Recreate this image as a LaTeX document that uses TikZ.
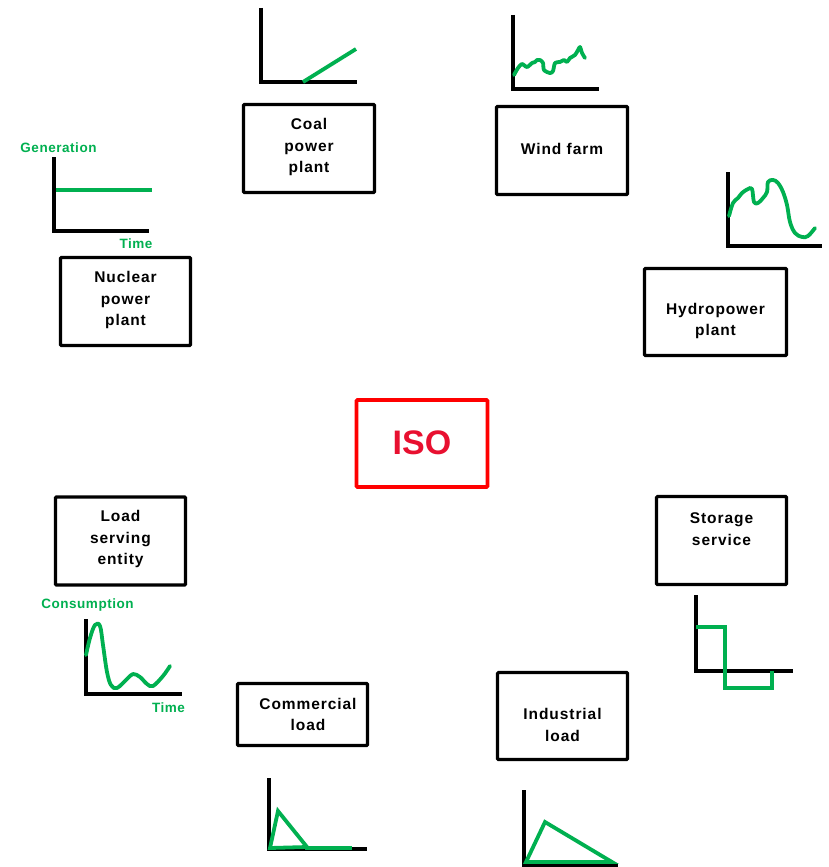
\documentclass[tikz,border=0pt]{standalone}
\usepackage{fontspec}
\setmainfont{Liberation Sans}
\newfontfamily\boxfont[LetterSpace=6]{Liberation Sans}
\newfontfamily\lblfont[LetterSpace=4]{Liberation Sans}
\definecolor{grn}{RGB}{0,176,80}
\definecolor{isored}{RGB}{255,0,0}
\definecolor{isotext}{RGB}{232,16,48}
\begin{document}
\begin{tikzpicture}[x=1pt,y=-1pt,
  box/.style={draw=black, line width=3.2pt, rounded corners=1pt, inner sep=0pt},
  boxtext/.style={align=center, font=\boxfont\fontsize{15.5}{21.5}\selectfont\bfseries, inner sep=0pt},
  axis/.style={draw=black, line width=3.6pt, line cap=butt, line join=miter},
  curve/.style={draw=grn, line width=3.8pt, line cap=round, line join=round},
  lbl/.style={text=grn, font=\lblfont\fontsize{13.5}{15}\selectfont\bfseries, inner sep=0pt}]
\useasboundingbox[fill=white] (0,0) rectangle (828,867);

% ---- boxes
\node[box, minimum width=131pt, minimum height=88pt] (coal) at (309,148.5) {};
\node[boxtext] (coalt) at (309,147) {Coal\\power\\plant};
\node[box, minimum width=131pt, minimum height=88pt] (wind) at (562,150.5) {};
\node[boxtext] (windt) at (562,149) {Wind farm};
\node[box, minimum width=130pt, minimum height=88pt] (nuc) at (125.5,301.5) {};
\node[boxtext] (nuct) at (125.5,300) {Nuclear\\power\\plant};
\node[box, minimum width=142pt, minimum height=87pt] (hydro) at (715.5,312) {};
\node[boxtext] (hydrot) at (715.5,321) {Hydropower\\plant};
\node[draw=isored, line width=3.6pt, rounded corners=1pt, minimum width=131pt, minimum height=87pt, inner sep=0pt] (iso) at (422,443.5) {};
\node[text=isotext, font=\fontsize{34}{34}\selectfont\bfseries, inner sep=0pt] (isot) at (422,443) {ISO};
\node[box, minimum width=130pt, minimum height=88pt] (lse) at (120.5,541) {};
\node[boxtext] (lset) at (120.5,539) {Load\\serving\\entity};
\node[box, minimum width=130pt, minimum height=88pt] (stor) at (721.5,540.5) {};
\node[boxtext] (stort) at (721.5,529) {Storage\\service};
\node[box, minimum width=130pt, minimum height=62pt] (comm) at (302.5,714.5) {};
\node[boxtext] (commt) at (308,714.5) {Commercial\\load};
\node[box, minimum width=130pt, minimum height=87pt] (ind) at (562.5,716) {};
\node[boxtext] (indt) at (562.5,725) {Industrial\\load};

% ---- coal chart
\draw[axis] (261,8) -- (261,82) -- (357,82);
\draw[curve, line cap=butt] (303,82) -- (356,49);

% ---- wind chart
\draw[axis] (513,15) -- (513,89) -- (599,89);
\draw[curve] plot[smooth, tension=0.5] coordinates {(514,75) (518,68) (522,64) (527,67) (532,63) (535,62) (537,60) (540,60) (543,63) (544,70) (550,73) (553,71) (555,63) (560,62) (564,60) (567,62) (570,58) (575,55) (578,50) (580,47) (582,53) (585,58)};

% ---- hydro chart
\draw[axis] (728,172) -- (728,246) -- (822,246);
\draw[curve] plot[smooth, tension=0.6] coordinates {(729,216) (733,203) (738,198) (742,193) (748,189) (752,189) (754,202) (758,203) (763,198) (767,192) (768,182) (773,180) (778,183) (783,192) (787,205) (790,222) (795,233) (802,237) (808,236) (815,228)};

% ---- nuclear chart
\draw[axis] (54,157) -- (54,231) -- (149,231);
\draw[curve, line cap=butt] (56,190) -- (152,190);
\node[lbl] (gen) at (58.5,148) {Generation};
\node[lbl] (t1) at (136,244) {Time};

% ---- load serving chart
\draw[axis] (86,619) -- (86,694) -- (182,694);
\draw[curve] plot[smooth, tension=0.6] coordinates {(86,655) (90,638) (95,625) (100,626) (103,645) (107,672) (111,685) (117,688) (127,679) (133,674) (140,677) (147,684) (153,686) (163,676) (170,666)};
\node[lbl] (cons) at (87.5,605) {Consumption};
\node[lbl] (t2) at (168.5,708) {Time};

% ---- storage chart
\draw[axis] (696,595) -- (696,671) -- (793,671);
\draw[curve, line cap=butt, line join=miter] (696,627) -- (725,627) -- (725,688) -- (772,688) -- (772,671);

% ---- commercial chart
\draw[axis] (269,778) -- (269,849) -- (367,849);
\draw[curve, line cap=butt, line join=miter] (270,848) -- (278,811) -- (307,847) -- cycle;
\draw[curve, line cap=butt] (305,848) -- (352,848);

% ---- industrial chart
\draw[axis] (524,790) -- (524,865) -- (618,865);
\draw[curve, line join=miter] (526,862) -- (545,822) -- (612,862) -- cycle;
\end{tikzpicture}
\end{document}
